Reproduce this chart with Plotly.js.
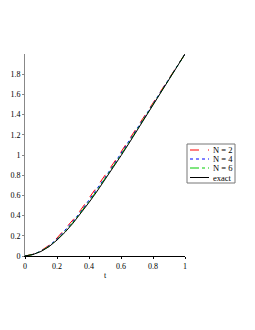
<!DOCTYPE html>
<html><head><meta charset="utf-8">
<script src="https://cdn.plot.ly/plotly-3.0.1.min.js"></script>
<style>html,body{margin:0;padding:0;background:#fff}#c{width:255px;height:330px}</style>
</head><body><div id="c"></div>
<script>
const t      = [0,0.05,0.1,0.15,0.2,0.25,0.3,0.35,0.4,0.45,0.5,0.55,0.6,0.65,0.7,0.75,0.8,0.85,0.9,0.95,1];
const exact  = [0,0.015,0.045,0.0925,0.1575,0.235,0.325,0.4225,0.53,0.64,0.755,0.873,0.993,1.116,1.241,1.367,1.494,1.621,1.748,1.874,2.0];
const yN2    = [0,0.017,0.052,0.106,0.178,0.263,0.358,0.46,0.57,0.68,0.795,0.912,1.03,1.151,1.273,1.396,1.519,1.641,1.763,1.882,2.0];
const yN4    = [0,0.016,0.049,0.1,0.169,0.251,0.343,0.443,0.552,0.662,0.777,0.895,1.014,1.136,1.259,1.383,1.508,1.632,1.756,1.879,2.0];
const yN6    = [0,0.015,0.047,0.096,0.163,0.242,0.333,0.432,0.54,0.65,0.765,0.883,1.003,1.126,1.25,1.375,1.501,1.627,1.752,1.876,2.0];
const names  = ['N = 2','N = 4','N = 6','exact'];
const colors = ['#ff0000','#0000ff','#00cc00','#000000'];
const dashes = ['dash','dot','dashdot','solid'];
const series = [yN2,yN4,yN6,exact];

const F = 'Liberation Serif, Times New Roman, serif';
const traces = series.map((y,i)=>({x:t,y:y,type:'scatter',mode:'lines',name:names[i],
  line:{color:colors[i],dash:dashes[i],width:1},showlegend:false}));

// custom legend (paper coords)
const px = v => (v-25)/160, py = v => (256-v)/202;
const shapes = [{type:'rect',xref:'paper',yref:'paper',x0:px(187),x1:px(235),y0:py(144),y1:py(183),
  line:{color:'#777',width:1},fillcolor:'rgba(0,0,0,0)'}];
const annotations = [];
const rows = [150,159,168,177.5];
names.forEach((n,i)=>{
  shapes.push({type:'line',xref:'paper',yref:'paper',x0:px(190),x1:px(209),y0:py(rows[i]),y1:py(rows[i]),
    line:{color:colors[i],dash:dashes[i],width:1}});
  annotations.push({xref:'paper',yref:'paper',x:px(210.5),y:py(rows[i]),text:n,showarrow:false,
    xanchor:'left',yanchor:'middle',font:{family:F,size:8.5,color:'#000'}});
});

const layout = {
  width:255,height:330,margin:{l:25,r:70,t:54,b:74},
  paper_bgcolor:'#fff',plot_bgcolor:'#fff',showlegend:false,
  font:{family:F,size:8,color:'#000'},
  xaxis:{range:[0,1],tickvals:[0,0.2,0.4,0.6,0.8,1],ticktext:['0','0.2','0.4','0.6','0.8','1'],
    tickfont:{family:F,size:8,color:'#000'},
    showgrid:false,zeroline:false,showline:true,linecolor:'#000',linewidth:1,
    ticks:'outside',ticklen:2,tickcolor:'#000',
    title:{text:'t',font:{family:F,size:8,color:'#000'},standoff:2}},
  yaxis:{range:[0,2.0],tickvals:[0,0.2,0.4,0.6,0.8,1,1.2,1.4,1.6,1.8],
    ticktext:['0','0.2','0.4','0.6','0.8','1','1.2','1.4','1.6','1.8'],
    tickfont:{family:F,size:8,color:'#000'},
    showgrid:false,zeroline:false,showline:true,linecolor:'#888',linewidth:1,
    ticks:'outside',ticklen:2,tickcolor:'#888'},
  shapes:shapes,annotations:annotations
};
Plotly.newPlot('c',traces,layout,{staticPlot:true,displayModeBar:false});
</script></body></html>
